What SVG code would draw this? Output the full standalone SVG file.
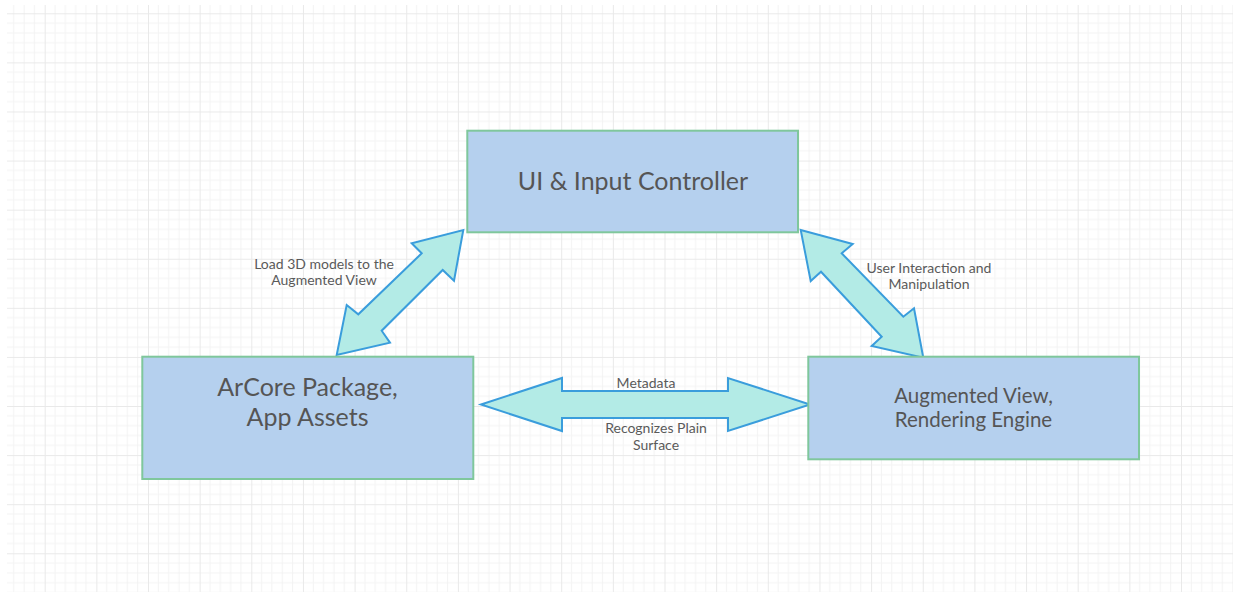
<svg xmlns="http://www.w3.org/2000/svg" width="1233" height="592" viewBox="0 0 1233 592">
  <defs>
    <!-- background grid: 5 minor cells per major cell -->
    <pattern id="grid" patternUnits="userSpaceOnUse" x="44.7" y="13.3" width="51.65" height="49.09">
      <g stroke="#f3f3f3" stroke-width="1">
        <line x1="10.33" y1="0" x2="10.33" y2="49.09"/>
        <line x1="20.66" y1="0" x2="20.66" y2="49.09"/>
        <line x1="30.99" y1="0" x2="30.99" y2="49.09"/>
        <line x1="41.32" y1="0" x2="41.32" y2="49.09"/>
        <line x1="0" y1="9.82" x2="51.65" y2="9.82"/>
        <line x1="0" y1="19.64" x2="51.65" y2="19.64"/>
        <line x1="0" y1="29.45" x2="51.65" y2="29.45"/>
        <line x1="0" y1="39.27" x2="51.65" y2="39.27"/>
      </g>
      <g stroke="#e9e9e9" stroke-width="1">
        <line x1="0.5" y1="0" x2="0.5" y2="49.09"/>
        <line x1="0" y1="0.5" x2="51.65" y2="0.5"/>
      </g>
    </pattern>
    <style>
      .box { fill: #b5d0ee; stroke: #7fc79c; stroke-width: 2; }
      .arrow { fill: #b3ebe6; stroke: #3a9ddc; stroke-width: 2; stroke-linejoin: miter; }
      .title { font-family: Lato, "Liberation Sans", sans-serif; fill: #555555; text-anchor: middle; }
      .label { font-family: Lato, "Liberation Sans", sans-serif; font-size: 14px; fill: #5a5a5a; text-anchor: middle; }
    </style>
  </defs>

  <rect x="0" y="0" width="1233" height="592" fill="#ffffff"/>
  <rect x="7" y="5" width="1226" height="587" fill="url(#grid)"/>

  <g id="connectors">
    <!-- ArCore <-> UI -->
    <polygon class="arrow" points="463.3,230 454,280.7 442.7,270 381.7,330.7 390,342.7 336.7,355 346.7,305 358.3,314.3 421.7,253.3 411.7,243.3"/>
    <!-- UI <-> Augmented View -->
    <polygon class="arrow" points="800.7,230 852.7,244 841.7,253.3 903.3,316.7 914,308.3 923.3,357.7 871.7,346 881.7,336.7 821,271.7 810.7,281"/>
    <!-- ArCore <-> Augmented View -->
    <polygon class="arrow" points="481,404.5 562,378 562,391 728,391 728,378 810,404.5 728,431 728,418 562,418 562,431"/>

    <text class="label" x="324" y="268.5">Load 3D models to the</text>
    <text class="label" x="324" y="285">Augmented View</text>
    <text class="label" x="929" y="272.5">User Interaction and</text>
    <text class="label" x="929" y="288.5">Manipulation</text>
    <text class="label" x="646" y="387.5">Metadata</text>
    <text class="label" x="656" y="432.5">Recognizes Plain</text>
    <text class="label" x="656" y="450">Surface</text>
  </g>

  <g id="ui-controller">
    <rect class="box" x="467.3" y="130.7" width="330.7" height="101.6"/>
    <text class="title" x="633" y="190" font-size="25">UI &amp; Input Controller</text>
  </g>

  <g id="arcore-package">
    <rect class="box" x="142.3" y="356.7" width="331" height="122.3"/>
    <text class="title" x="307.5" y="395.7" font-size="25">ArCore Package,</text>
    <text class="title" x="307.5" y="426" font-size="25">App Assets</text>
  </g>

  <g id="augmented-view">
    <rect class="box" x="808.3" y="356.7" width="330.7" height="102.6"/>
    <text class="title" x="973.5" y="403.3" font-size="20.5">Augmented View,</text>
    <text class="title" x="973.5" y="426.7" font-size="20.5">Rendering Engine</text>
  </g>
</svg>
